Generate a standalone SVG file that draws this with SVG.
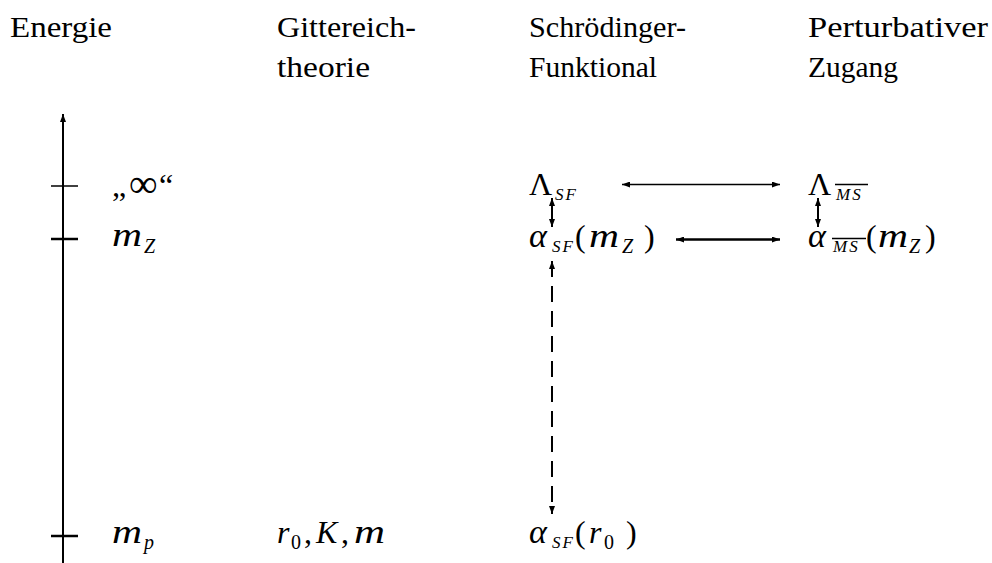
<svg xmlns="http://www.w3.org/2000/svg" width="992" height="563" viewBox="0 0 992 563">
<defs>
<marker id="ah" viewBox="0 0 8 6" refX="8" refY="3" markerWidth="8" markerHeight="6" markerUnits="userSpaceOnUse" orient="auto-start-reverse">
<path d="M0,0 L8,3 L0,6 z" fill="#000"/>
</marker>
</defs>
<rect width="992" height="563" fill="#fff"/>

<g id="headers" fill="#000">
<text style="font-family:'Liberation Serif',serif;font-size:29px" x="10" y="37" textLength="102" lengthAdjust="spacingAndGlyphs">Energie</text>
<text style="font-family:'Liberation Serif',serif;font-size:29px" x="277" y="37" textLength="139" lengthAdjust="spacingAndGlyphs">Gittereich-</text>
<text style="font-family:'Liberation Serif',serif;font-size:29px" x="277" y="77" textLength="93" lengthAdjust="spacingAndGlyphs">theorie</text>
<text style="font-family:'Liberation Serif',serif;font-size:29px" x="529" y="37" textLength="157" lengthAdjust="spacingAndGlyphs">Schrödinger-</text>
<text style="font-family:'Liberation Serif',serif;font-size:29px" x="529" y="77" textLength="128" lengthAdjust="spacingAndGlyphs">Funktional</text>
<text style="font-family:'Liberation Serif',serif;font-size:29px" x="808" y="37" textLength="180" lengthAdjust="spacingAndGlyphs">Perturbativer</text>
<text style="font-family:'Liberation Serif',serif;font-size:29px" x="808" y="77" textLength="90" lengthAdjust="spacingAndGlyphs">Zugang</text>
</g>

<g id="axis" stroke="#000" fill="none">
<line x1="63" y1="563" x2="63" y2="114" stroke-width="2" marker-end="url(#ah)"/>
<line x1="51" y1="186" x2="78" y2="186" stroke-width="1.5"/>
<line x1="51" y1="239" x2="78" y2="239" stroke-width="2.5"/>
<line x1="51" y1="536" x2="78" y2="536" stroke-width="2.5"/>
</g>

<g id="label-infinity" fill="#000">
<text style="font-family:'Liberation Serif',serif;font-size:32px" x="112" y="196">„</text>
<text style="font-family:'Liberation Serif',serif;font-size:40px" x="129" y="197">∞</text>
<text style="font-family:'Liberation Serif',serif;font-size:32px" x="159" y="196">“</text>
</g>
<g id="label-mZ" fill="#000">
<text style="font-family:'Liberation Serif',serif;font-style:italic;font-size:34px" x="112" y="246" textLength="30" lengthAdjust="spacingAndGlyphs">m</text>
<text style="font-family:'Liberation Serif',serif;font-style:italic;font-size:20px" x="144" y="253">Z</text>
</g>
<g id="label-mp" fill="#000">
<text style="font-family:'Liberation Serif',serif;font-style:italic;font-size:34px" x="112" y="543" textLength="30" lengthAdjust="spacingAndGlyphs">m</text>
<text style="font-family:'Liberation Serif',serif;font-style:italic;font-size:20px" x="144" y="549">p</text>
</g>
<g id="label-lattice" fill="#000">
<text style="font-family:'Liberation Serif',serif;font-style:italic;font-size:32px" x="277" y="543">r</text>
<text style="font-family:'Liberation Serif',serif;font-size:20px" x="291" y="549">0</text>
<text style="font-family:'Liberation Serif',serif;font-size:32px" x="304" y="543">,</text>
<text style="font-family:'Liberation Serif',serif;font-style:italic;font-size:32px" x="316" y="543">K</text>
<text style="font-family:'Liberation Serif',serif;font-size:32px" x="341" y="543">,</text>
<text style="font-family:'Liberation Serif',serif;font-style:italic;font-size:34px" x="354" y="543" textLength="31" lengthAdjust="spacingAndGlyphs">m</text>
</g>

<g id="node-LambdaSF" fill="#000">
<text style="font-family:'Liberation Serif',serif;font-size:32px" x="529" y="195">Λ</text>
<text style="font-family:'Liberation Serif',serif;font-style:italic;font-size:17px;letter-spacing:2px" x="555" y="200">SF</text>
</g>
<g id="node-alphaSF-mZ" fill="#000">
<text style="font-family:'Liberation Serif',serif;font-style:italic;font-size:34px" x="529" y="247">α</text>
<text style="font-family:'Liberation Serif',serif;font-style:italic;font-size:17px;letter-spacing:2px" x="552" y="252">SF</text>
<text style="font-family:'Liberation Serif',serif;font-size:32px" x="575" y="247">(</text>
<text style="font-family:'Liberation Serif',serif;font-style:italic;font-size:34px" x="589" y="247" textLength="30" lengthAdjust="spacingAndGlyphs">m</text>
<text style="font-family:'Liberation Serif',serif;font-style:italic;font-size:20px" x="622" y="253">Z</text>
<text style="font-family:'Liberation Serif',serif;font-size:32px" x="644" y="247">)</text>
</g>
<g id="node-LambdaMS" fill="#000">
<text style="font-family:'Liberation Serif',serif;font-size:32px" x="808" y="195">Λ</text>
<text style="font-family:'Liberation Serif',serif;font-style:italic;font-size:17px;letter-spacing:2px" x="836" y="200">MS</text>
<line x1="835" y1="184.5" x2="868" y2="184.5" stroke="#000" stroke-width="1.5"/>
</g>
<g id="node-alphaMS-mZ" fill="#000">
<text style="font-family:'Liberation Serif',serif;font-style:italic;font-size:34px" x="808" y="247">α</text>
<text style="font-family:'Liberation Serif',serif;font-style:italic;font-size:17px;letter-spacing:2px" x="833" y="252">MS</text>
<line x1="832" y1="238.5" x2="866" y2="238.5" stroke="#000" stroke-width="1.5"/>
<text style="font-family:'Liberation Serif',serif;font-size:32px" x="866" y="247">(</text>
<text style="font-family:'Liberation Serif',serif;font-style:italic;font-size:34px" x="878" y="247" textLength="30" lengthAdjust="spacingAndGlyphs">m</text>
<text style="font-family:'Liberation Serif',serif;font-style:italic;font-size:20px" x="909" y="253">Z</text>
<text style="font-family:'Liberation Serif',serif;font-size:32px" x="925" y="247">)</text>
</g>
<g id="node-alphaSF-r0" fill="#000">
<text style="font-family:'Liberation Serif',serif;font-style:italic;font-size:34px" x="529" y="543">α</text>
<text style="font-family:'Liberation Serif',serif;font-style:italic;font-size:17px;letter-spacing:2px" x="552" y="548">SF</text>
<text style="font-family:'Liberation Serif',serif;font-size:32px" x="575" y="543">(</text>
<text style="font-family:'Liberation Serif',serif;font-style:italic;font-size:32px" x="589" y="543">r</text>
<text style="font-family:'Liberation Serif',serif;font-size:20px" x="604" y="549">0</text>
<text style="font-family:'Liberation Serif',serif;font-size:32px" x="626" y="543">)</text>
</g>

<g id="connectors" stroke="#000" fill="none">
<line x1="622" y1="184.5" x2="780" y2="184.5" stroke-width="1.5" marker-start="url(#ah)" marker-end="url(#ah)"/>
<line x1="676" y1="239.5" x2="780" y2="239.5" stroke-width="2.5" marker-start="url(#ah)" marker-end="url(#ah)"/>
<line x1="552" y1="198" x2="552" y2="227" stroke-width="2" marker-start="url(#ah)" marker-end="url(#ah)"/>
<line x1="818" y1="198" x2="818" y2="227" stroke-width="2" marker-start="url(#ah)" marker-end="url(#ah)"/>
<line x1="552" y1="261" x2="552" y2="514" stroke-width="2" stroke-dasharray="16 9" marker-start="url(#ah)" marker-end="url(#ah)"/>
</g>
</svg>
